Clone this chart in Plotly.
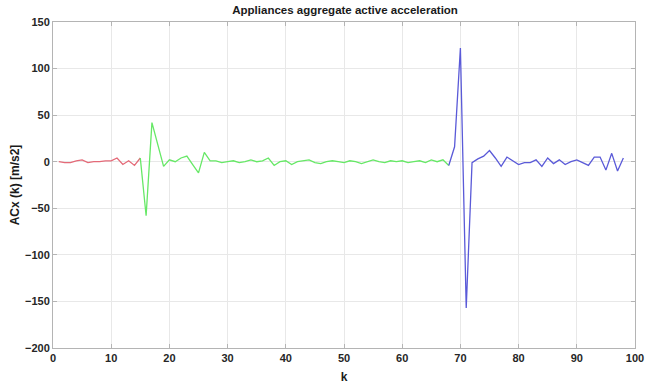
import plotly.graph_objects as go

# Segment 1 (red): k = 1..15
k_red = list(range(1, 16))
acc_red = [0, -1, -1, 1, 2, -1, 0, 0, 1, 1, 4, -3, 1, -4, 4]

# Segment 2 (green): k = 15..68
k_green = list(range(15, 69))
acc_green = [4, -58, 42, 18, -5, 2, 0, 4, 6, -3,
             -12, 10, 1, 1, -1, 0, 1, -1, 0, 2,
             0, 1, 4, -4, 0, 1, -3, 0, 1, 2,
             -1, -2, 0, 1, 0, -1, 1, 0, -2, 0,
             2, 0, -1, 1, 0, 1, -1, 0, 1, -1,
             2, 0, 2, -4]

# Segment 3 (blue): k = 68..98
k_blue = list(range(68, 99))
acc_blue = [-4, 16, 122, -157, -1, 3, 6, 12, 4, -5,
            5, 1, -3, -1, -1, 2, -5, 4, -2, 2,
            -3, 0, 2, -1, -4, 5, 5, -9, 9, -10, 4]

x_ticks = list(range(0, 101, 10))
y_ticks = list(range(-200, 151, 50))

FONT = "Liberation Sans, Arial, sans-serif"

fig = go.Figure()
fig.add_trace(go.Scatter(x=k_red, y=acc_red, mode="lines",
                         line=dict(color="#e46a78", width=1.3)))
fig.add_trace(go.Scatter(x=k_green, y=acc_green, mode="lines",
                         line=dict(color="#66e866", width=1.3)))
fig.add_trace(go.Scatter(x=k_blue, y=acc_blue, mode="lines",
                         line=dict(color="#5a5ad8", width=1.3)))

tick_font = dict(family=FONT, size=11, color="#262626", weight="bold")
axis_common = dict(
    showgrid=True, gridcolor="#e8e8e8", gridwidth=1,
    showline=True, linecolor="#b4b4b4", linewidth=1, mirror="allticks",
    ticks="inside", ticklen=4, tickcolor="#b4b4b4",
    zeroline=False, tickfont=tick_font, automargin=False,
)

fig.update_layout(
    width=645, height=387,
    margin=dict(l=53, r=10, t=22, b=39),
    paper_bgcolor="white", plot_bgcolor="white",
    showlegend=False,
    title=dict(text="Appliances aggregate active acceleration",
               x=0.535, xanchor="center", y=0.985, yanchor="top",
               font=dict(family=FONT, size=11.5, color="#1a1a1a", weight="bold")),
    xaxis=dict(range=[0, 100], tickvals=x_ticks,
               title=dict(text="k", standoff=9,
                          font=dict(family=FONT, size=12, color="#1a1a1a",
                                    weight="bold")),
               **axis_common),
    yaxis=dict(range=[-200, 150], tickvals=y_ticks,
               title=dict(text="ACx (k) [m/s2]", standoff=2,
                          font=dict(family=FONT, size=12, color="#1a1a1a",
                                    weight="bold")),
               **axis_common),
)

fig.write_html("out.html")
